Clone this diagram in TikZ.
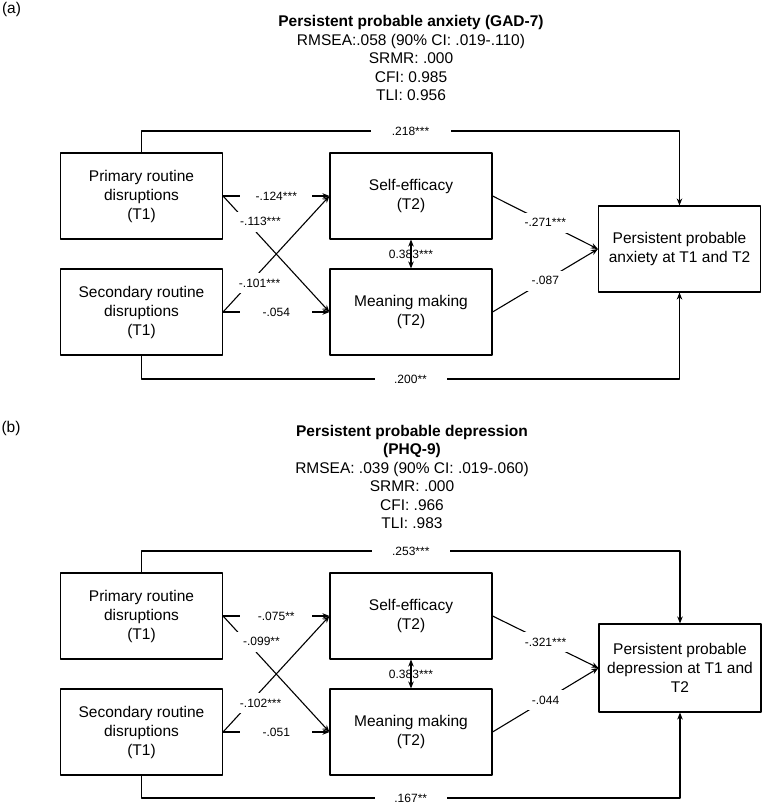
\documentclass[tikz,border=0pt]{standalone}
\usepackage{fontspec}
\setmainfont{Liberation Sans}
\usetikzlibrary{arrows.meta}

\newcommand\boxtxt{\fontsize{15.5}{19}\selectfont}
\newcommand\titletxt{\fontsize{15.5}{18.5}\selectfont}
\newcommand\coeftxt{\fontsize{12}{14}\selectfont}

\tikzset{
	box/.style={draw, minimum width=162pt, minimum height=86pt, inner sep=2pt, align=center, font=\boxtxt},
	coef/.style={fill=white, font=\coeftxt, minimum width=72pt, minimum height=20pt, inner sep=0pt},
	diagcoef/.style={coef, minimum width=58pt},
}

\begin{document}
\begin{tikzpicture}[x=1pt,y=-1pt,line join=round,line width=1.1pt,>={Stealth[length=7pt,width=5.5pt]}]
	\useasboundingbox (0,0) rectangle (764,804);
	
	% the four boxes that both panels share
	\foreach \p/\dy in {a/0,b/420} {
		\begin{scope}[shift={(0,\dy)}]
			\node[box] (\p prim) at (141.5,196) {Primary routine\\disruptions\\(T1)};
			\node[box] (\p sec) at (141.5,312) {Secondary routine\\disruptions\\(T1)};
			\node[box] (\p se) at (411,196) {Self-efficacy\\(T2)};
			\node[box] (\p mm) at (411,312) {Meaning making\\(T2)};
		\end{scope}
	}
	
	\path
	(0,131) coordinate (atop)
	(0,379) coordinate (abot)
	(0,551) coordinate (btop)
	(0,798) coordinate (bbot);
	
	% (a)
	\node[font=\boxtxt] (alab) at (11.5,9) {(a)};
	\node[align=center, font=\titletxt] (atitle) at (411,58)
	{\textbf{Persistent probable anxiety (GAD-7)}\\RMSEA:.058 (90\% CI: .019-.110)\\SRMR: .000\\CFI: 0.985\\TLI: 0.956};
	\node[box] (aout) at (679.5,249) {Persistent probable\\anxiety at T1 and T2};
	
	\draw[->] (aprim.east) -- node[coef]{-.124***} (ase.west);
	\draw[->] (aprim.east) -- node[diagcoef,pos=0.22,xshift=14pt]{-.113***} (amm.west);
	\draw[->] (asec.east) -- node[diagcoef,pos=0.25,xshift=10pt]{-.101***} (ase.west);
	\draw[->] (asec.east) -- node[coef]{-.054} (amm.west);
	\draw[->] (ase.east) -- node[coef]{-.271***} (aout.west);
	\draw[->] (amm.east) -- node[coef]{-.087} (aout.west);
	\draw[<->] (ase.south) -- node[font=\coeftxt]{0.383***} (amm.north);
	\draw[->] (aprim.north) -- (aprim.north |- atop) -- node[coef,minimum width=80pt]{.218***} (aout.north |- atop) -- (aout.north);
	\draw[->] (asec.south) -- (asec.south |- abot) -- node[coef]{.200**} (aout.south |- abot) -- (aout.south);
	
	% (b)
	\node[font=\boxtxt] (blab) at (11,428) {(b)};
	\node[align=center, font=\titletxt] (btitle) at (412,477)
	{\textbf{Persistent probable depression}\\\textbf{(PHQ-9)}\\RMSEA: .039 (90\% CI: .019-.060)\\SRMR: .000\\CFI: .966\\TLI: .983};
	\node[box, minimum height=88pt] (bout) at (680,668) {Persistent probable\\depression at T1 and\\T2};
	
	\draw[->] (bprim.east) -- node[coef]{-.075**} (bse.west);
	\draw[->] (bprim.east) -- node[diagcoef,pos=0.22,xshift=15pt]{-.099**} (bmm.west);
	\draw[->] (bsec.east) -- node[diagcoef,pos=0.25,xshift=11pt]{-.102***} (bse.west);
	\draw[->] (bsec.east) -- node[coef]{-.051} (bmm.west);
	\draw[->] (bse.east) -- node[coef]{-.321***} (bout.west);
	\draw[->] (bmm.east) -- node[coef]{-.044} (bout.west);
	\draw[<->] (bse.south) -- node[font=\coeftxt]{0.383***} (bmm.north);
	\draw[->] (bprim.north) -- (bprim.north |- btop) -- node[coef,minimum width=78pt]{.253***} (bout.north |- btop) -- (bout.north);
	\draw[->] (bsec.south) -- (bsec.south |- bbot) -- node[coef]{.167**} (bout.south |- bbot) -- (bout.south);
	
\end{tikzpicture}
\end{document}
